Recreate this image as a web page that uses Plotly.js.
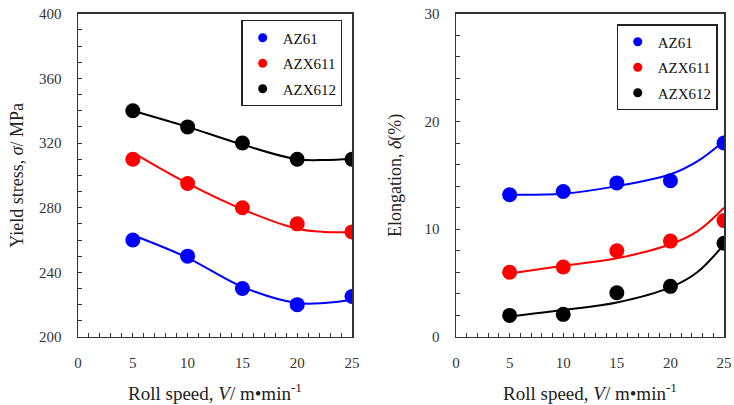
<!DOCTYPE html>
<html>
<head>
<meta charset="utf-8">
<script src="https://cdn.plot.ly/plotly-3.0.1.min.js"></script>
<style>html,body{margin:0;padding:0;background:#fff;}#chart{width:734px;height:405px;}</style>
</head>
<body>
<div id="chart"></div>
<script>
// ---- data ----
const seriesNames = ['AZ61', 'AZX611', 'AZX612'];
const seriesColors = ['#0000ff', '#ff0000', '#000000'];
const rollSpeed = [5, 10, 15, 20, 25];

// Yield stress (MPa)
const yieldAZ61 = [260, 250, 230, 220, 225];
const yieldAZX611 = [310, 295, 280, 270, 265];
const yieldAZX612 = [340, 330, 320, 310, 310];

// Elongation (%)
const elongAZ61 = [13.2, 13.5, 14.3, 14.5, 18.0];
const elongAZX611 = [6.0, 6.5, 8.0, 8.9, 10.8];
const elongAZX612 = [2.0, 2.1, 4.1, 4.7, 8.7];

// fitted curves
const fitXYieldAZ61 = [5.5, 10, 15, 20, 22.5, 25];
const fitYieldAZ61 = [261.7, 249, 231, 221, 221, 223];
const fitXYieldAZX611 = [5.4, 10, 15, 20, 22.5, 25];
const fitYieldAZX611 = [312.5, 295, 279, 267, 265, 265];
const fitXYieldAZX612 = [5, 10, 15, 20, 22.5, 25];
const fitYieldAZX612 = [340, 330, 319, 310, 309.5, 310.5];

const fitXElong = [5, 10, 15, 20, 22.5, 25];
const fitElongAZ61 = [13.2, 13.3, 14.0, 15.1, 16.3, 18.2];
const fitElongAZX611 = [5.9, 6.6, 7.3, 8.6, 9.8, 12.0];
const fitElongAZX612 = [1.9, 2.5, 3.2, 4.6, 6.0, 8.6];

const xTickVals = [0, 5, 10, 15, 20, 25];
const yieldTickVals = [200, 240, 280, 320, 360, 400];
const elongTickVals = [0, 10, 20, 30];

// ---- traces ----
const FONT = '"Liberation Serif", "Times New Roman", Times, serif';
const yieldData = [yieldAZ61, yieldAZX611, yieldAZX612];
const yieldFitX = [fitXYieldAZ61, fitXYieldAZX611, fitXYieldAZX612];
const yieldFitY = [fitYieldAZ61, fitYieldAZX611, fitYieldAZX612];
const elongData = [elongAZ61, elongAZX611, elongAZX612];
const elongFitY = [fitElongAZ61, fitElongAZX611, fitElongAZX612];

const traces = [];
for (let i = 0; i < 3; i++) {
  traces.push({x: yieldFitX[i], y: yieldFitY[i], xaxis: 'x', yaxis: 'y', mode: 'lines',
    line: {color: seriesColors[i], width: 2, shape: 'spline'}, showlegend: false, hoverinfo: 'skip'});
  traces.push({x: rollSpeed, y: yieldData[i], xaxis: 'x', yaxis: 'y', mode: 'markers',
    marker: {color: seriesColors[i], size: 15}, showlegend: false});
  traces.push({x: fitXElong, y: elongFitY[i], xaxis: 'x2', yaxis: 'y2', mode: 'lines',
    line: {color: seriesColors[i], width: 2, shape: 'spline'}, showlegend: false, hoverinfo: 'skip'});
  traces.push({x: rollSpeed, y: elongData[i], xaxis: 'x2', yaxis: 'y2', mode: 'markers',
    marker: {color: seriesColors[i], size: 15}, showlegend: false});
}
for (let i = 0; i < 3; i++) {
  traces.push({x: [null], y: [null], xaxis: 'x', yaxis: 'y', mode: 'markers', name: seriesNames[i],
    marker: {color: seriesColors[i], size: 9}, legend: 'legend', legendgroup: 'a' + i});
  traces.push({x: [null], y: [null], xaxis: 'x2', yaxis: 'y2', mode: 'markers', name: seriesNames[i],
    marker: {color: seriesColors[i], size: 9}, legend: 'legend2', legendgroup: 'b' + i});
}

const xTitle = 'Roll speed, <i>V</i>/ m•min<sup>-1</sup>';
function xAxis(domain) {
  return {domain: domain, range: [0, 25], tickvals: xTickVals, ticks: 'inside', ticklen: 4, tickcolor: '#333',
    showline: true, linecolor: '#333', linewidth: 1.5, mirror: true, showgrid: false, zeroline: false,
    tickfont: {family: FONT, size: 15, color: '#333'}, ticklabelstandoff: 12,
    minor: {dtick: 1, ticks: 'inside', ticklen: 4, tickcolor: '#333', showgrid: false},
    title: {text: xTitle, font: {family: FONT, size: 19, color: '#222'}, standoff: 16}};
}
function yAxis(range, tickvals, minorDtick, title, anchor, standoff) {
  return {domain: [0.168, 0.966], range: range, tickvals: tickvals, ticks: 'inside', ticklen: 4, tickcolor: '#333',
    showline: true, linecolor: '#333', linewidth: 1.5, mirror: true, showgrid: false, zeroline: false,
    tickfont: {family: FONT, size: 15, color: '#333'}, ticklabelstandoff: 12, anchor: anchor,
    minor: {dtick: minorDtick, ticks: 'inside', ticklen: 4, tickcolor: '#333', showgrid: false},
    title: {text: title, font: {family: FONT, size: 18, color: '#222'}, standoff: standoff}};
}

const legendStyle = {bgcolor: '#fff', bordercolor: '#222', borderwidth: 1.2, tracegroupgap: 3,
  font: {family: FONT, size: 15, color: '#111'}, xanchor: 'left', yanchor: 'top', itemwidth: 30};

const layout = {
  width: 734, height: 405, margin: {l: 0, r: 0, t: 0, b: 0},
  paper_bgcolor: '#fff', plot_bgcolor: '#fff',
  xaxis: Object.assign(xAxis([0.1063, 0.4796]), {anchor: 'y'}),
  yaxis: yAxis([200, 400], yieldTickVals, 10, 'Yield stress, <i>σ</i>/ MPa', 'x', 10),
  xaxis2: Object.assign(xAxis([0.6213, 0.9864]), {anchor: 'y2'}),
  yaxis2: yAxis([0, 30], elongTickVals, 2, 'Elongation, <i>δ</i>(%)', 'x2', 18),
  legend: Object.assign({x: 0.329, y: 0.95}, legendStyle),
  legend2: Object.assign({x: 0.84, y: 0.94}, legendStyle)
};

Plotly.newPlot('chart', traces, layout, {staticPlot: true, displayModeBar: false});
</script>
</body>
</html>
